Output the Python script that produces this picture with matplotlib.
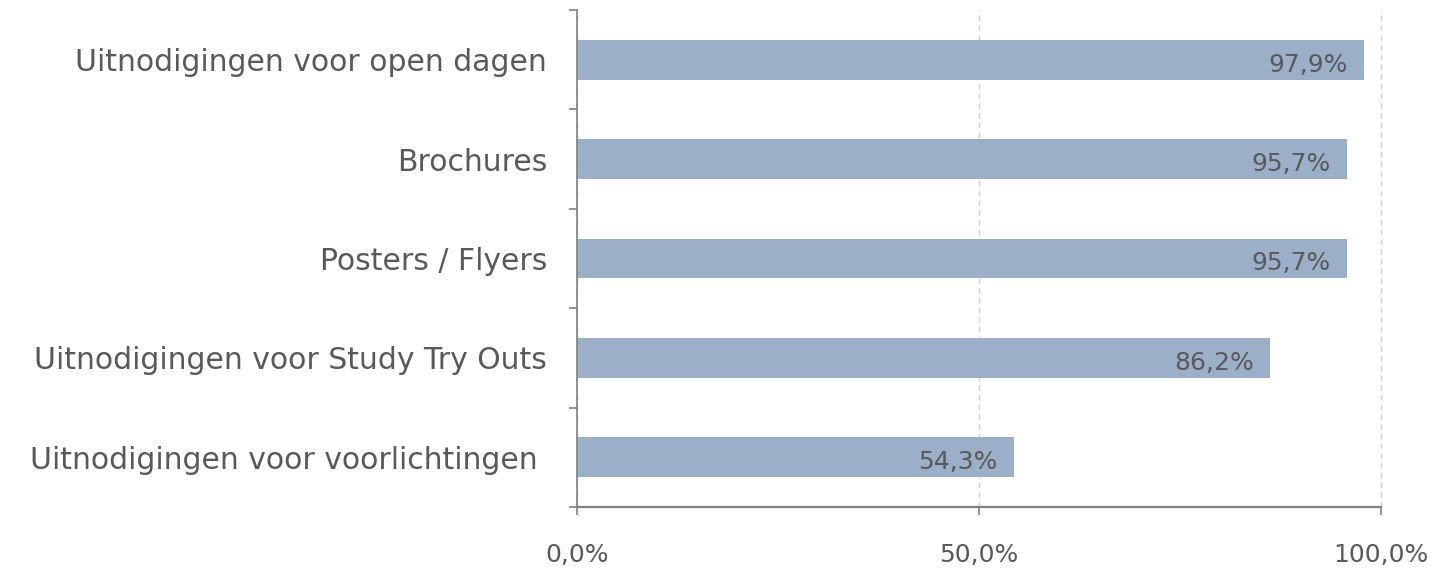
import numpy as np
import matplotlib.pyplot as plt
from matplotlib.ticker import FuncFormatter, FixedLocator

categories = [
    'Uitnodigingen voor open dagen',
    'Brochures',
    'Posters / Flyers',
    'Uitnodigingen voor Study Try Outs',
    'Uitnodigingen voor voorlichtingen ',
]
values = [97.9, 95.7, 95.7, 86.2, 54.3]
xticks = [0, 50, 100]

plt.rcParams['font.family'] = ['DejaVu Sans']
text_color = '#595959'
bar_color = '#9bb0c8'

fig = plt.figure(figsize=(14.5, 5.72), dpi=100)
ax = fig.add_axes([0.398, 0.1136, 0.5545, 0.869])

y = np.arange(len(categories))[::-1]
ax.barh(y, values, height=0.4, color=bar_color, zorder=2)

for yi, v in zip(y, values):
    ax.text(v - 2.0, yi - 0.05, f'{v:.1f}%'.replace('.', ','), ha='right', va='center',
            fontsize=18, color=text_color, zorder=3)

ax.set_xlim(0, 100)
ax.set_ylim(-0.5, len(categories) - 0.5)
ax.set_xticks(xticks)
ax.xaxis.set_major_formatter(FuncFormatter(lambda v, p: f'{v:.1f}%'.replace('.', ',')))
ax.set_yticks(y)
ax.set_yticklabels(categories)
ax.yaxis.set_minor_locator(FixedLocator(np.arange(-0.5, len(categories), 1.0)))

ax.tick_params(axis='y', which='major', length=0, pad=21.5, labelsize=21.5, labelcolor=text_color)
ax.tick_params(axis='y', which='minor', length=6, width=1.2, color='#808080', direction='out')
ax.tick_params(axis='x', length=6, width=1.2, color='#808080', direction='out', pad=20,
               labelsize=18, labelcolor=text_color)

ax.grid(axis='x', linestyle=(0, (4, 3)), color='#d0d0d0', linewidth=1, zorder=0)
for gl in ax.get_xgridlines():
    gl.set_clip_on(False)
for s in ['top', 'right']:
    ax.spines[s].set_visible(False)
ax.spines['left'].set_color('#808080')
ax.spines['left'].set_linewidth(1.2)
ax.spines['bottom'].set_color('#808080')
ax.spines['bottom'].set_linewidth(1.6)

fig.savefig('out.png', dpi=100)
